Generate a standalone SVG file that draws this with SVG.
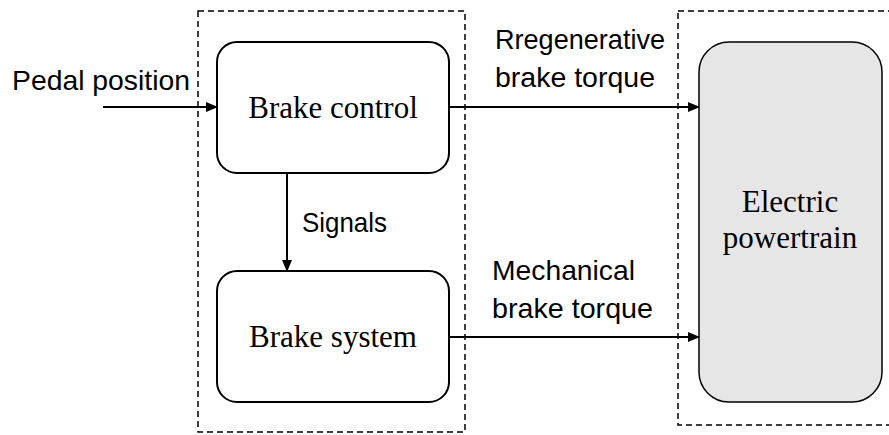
<svg xmlns="http://www.w3.org/2000/svg" width="889" height="435" viewBox="0 0 889 435">
<defs>
<marker id="ah" markerWidth="12" markerHeight="10" refX="11" refY="5" orient="auto" markerUnits="userSpaceOnUse">
<path d="M0,0 L12,5 L0,10 z" fill="#000"/>
</marker>
<style>
.dash{fill:none;stroke:#000;stroke-width:1.5;stroke-dasharray:6 4}
.box{fill:#fff;stroke:#000;stroke-width:2}
.gray{fill:#e7e6e6;stroke:#000;stroke-width:1.5}
.serif{font-family:"Liberation Serif","Times New Roman",serif;font-size:31px;fill:#000}
.sans{font-family:"Liberation Sans",Arial,sans-serif;font-size:28px;fill:#000}
.conn{fill:none;stroke:#000;stroke-width:2;marker-end:url(#ah)}
</style>
</defs>
<rect class="dash" x="198" y="11" width="267" height="421"/>
<rect class="dash" x="678" y="11" width="220" height="414"/>
<g id="brake-control">
<rect class="box" x="217" y="42" width="232" height="131" rx="20"/>
<text class="serif" x="333" y="118" text-anchor="middle">Brake control</text>
</g>
<g id="brake-system">
<rect class="box" x="217" y="271" width="232" height="131" rx="20"/>
<text class="serif" x="333" y="347" text-anchor="middle">Brake system</text>
</g>
<g id="electric-powertrain">
<rect class="gray" x="699" y="42" width="183" height="360" rx="30"/>
<text class="serif" x="790" y="212" text-anchor="middle">Electric</text>
<text class="serif" x="790" y="248" text-anchor="middle">powertrain</text>
</g>
<g id="connectors">
<line class="conn" x1="103" y1="107" x2="217" y2="107"/>
<line class="conn" x1="287" y1="173" x2="287" y2="271"/>
<line class="conn" x1="449" y1="107" x2="699" y2="107"/>
<line class="conn" x1="449" y1="337" x2="699" y2="337"/>
</g>
<g id="labels">
<text class="sans" x="12" y="90" textLength="178" lengthAdjust="spacingAndGlyphs">Pedal position</text>
<text class="sans" x="302" y="232" textLength="85" lengthAdjust="spacingAndGlyphs">Signals</text>
<text class="sans" x="495" y="49" textLength="170" lengthAdjust="spacingAndGlyphs">Rregenerative</text>
<text class="sans" x="495" y="87" textLength="160" lengthAdjust="spacingAndGlyphs">brake torque</text>
<text class="sans" x="492" y="280" textLength="143" lengthAdjust="spacingAndGlyphs">Mechanical</text>
<text class="sans" x="492" y="318" textLength="161" lengthAdjust="spacingAndGlyphs">brake torque</text>
</g>
</svg>
